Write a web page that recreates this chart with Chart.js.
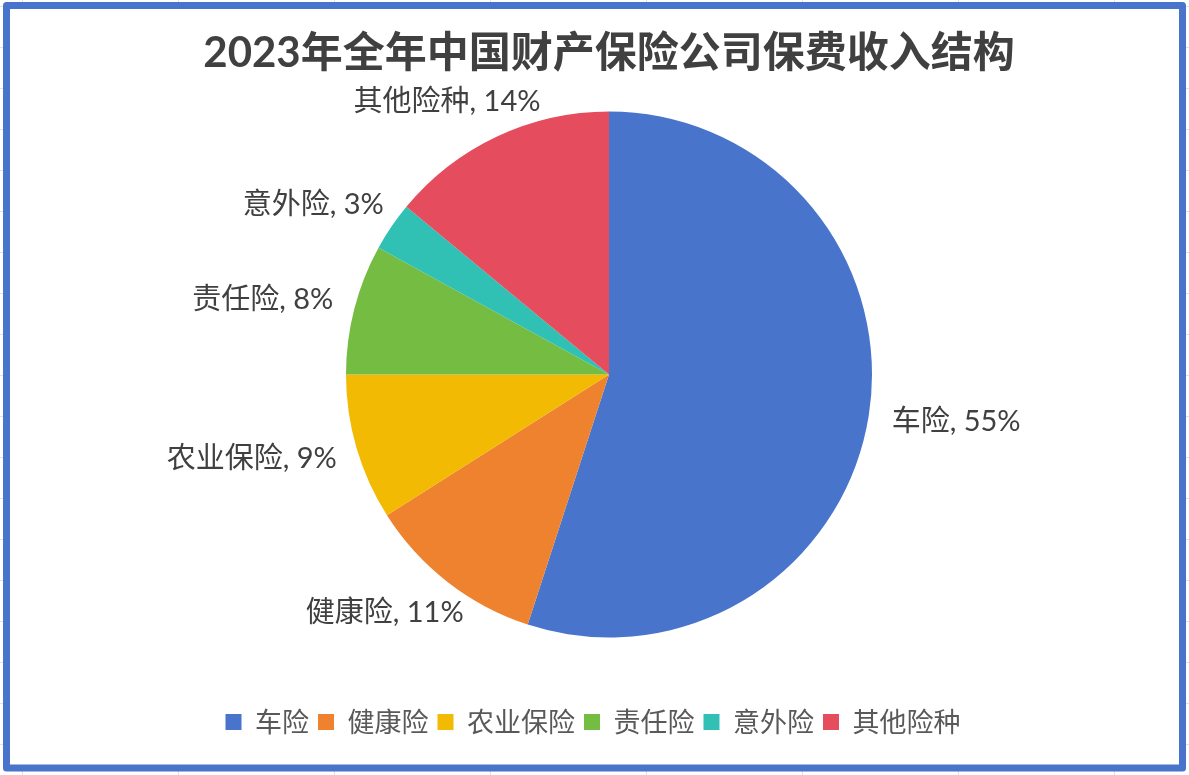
<!DOCTYPE html>
<html>
<head>
<meta charset="utf-8">
<script src="https://cdn.jsdelivr.net/npm/chart.js@4.4.1/dist/chart.umd.min.js"></script>
<style>
  html, body { margin: 0; padding: 0; background: #ffffff; }
  #wrap { position: relative; width: 1189px; height: 775px; }
  canvas { display: block; }
</style>
</head>
<body>
<div id="wrap"><canvas id="c" width="1189" height="775"></canvas></div>
<script>
// ---- data ----
const chartTitle = '2023年全年中国财产保险公司保费收入结构';
const categories = ['车险', '健康险', '农业保险', '责任险', '意外险', '其他险种'];
const shares = [55, 11, 9, 8, 3, 14];

// ---- styles ----
const sliceColors = ['#4874CB', '#EE822F', '#F2BA02', '#75BD42', '#30C0B4', '#E54C5E'];
const FONT_FAMILY = 'Lato, "Noto Sans CJK SC", sans-serif';
const CJK_FAMILY = '"Noto Sans CJK SC", Lato, sans-serif';
const frameColor = '#4874CB';
const legendShift = -16;

const framePlugin = {
  id: 'frame',
  beforeDraw(chart) {
    const ctx = chart.ctx;
    const W = chart.width, H = chart.height;
    ctx.save();
    ctx.fillStyle = '#ffffff';
    ctx.fillRect(0, 0, W, H);
    // faint sheet gridlines behind the chart frame
    ctx.strokeStyle = '#E1E1E1';
    ctx.lineWidth = 1;
    ctx.beginPath();
    for (let x = 22; x < W; x += 156) { ctx.moveTo(x + 0.5, 0); ctx.lineTo(x + 0.5, H); }
    for (let y = 6; y < H; y += 41) { ctx.moveTo(0, y + 0.5); ctx.lineTo(W, y + 0.5); }
    ctx.stroke();
    // chart area
    ctx.fillStyle = '#ffffff';
    ctx.fillRect(6.5, 5.5, 1176, 762.5);
    ctx.strokeStyle = frameColor;
    ctx.lineWidth = 7;
    ctx.lineJoin = 'round';
    ctx.strokeRect(6.5, 5.5, 1176, 762.5);
    ctx.restore();
  },
  afterLayout(chart) {
    if (chart.legend) {
      chart.legend.left += legendShift;
      chart.legend.right += legendShift;
    }
  }
};

const sliceLabelPlugin = {
  id: 'sliceLabels',
  afterDatasetsDraw(chart) {
    const ctx = chart.ctx;
    const meta = chart.getDatasetMeta(0);
    const data = chart.data.datasets[0].data;
    const total = data.reduce((a, b) => a + b, 0);
    const fontSize = 29;
    const gap = 24;
    ctx.save();
    ctx.font = fontSize + 'px ' + FONT_FAMILY;
    ctx.fillStyle = '#404040';
    ctx.textAlign = 'center';
    ctx.textBaseline = 'middle';
    meta.data.forEach((arc, i) => {
      const p = arc.getProps(['x', 'y', 'startAngle', 'endAngle', 'outerRadius'], true);
      const mid = (p.startAngle + p.endAngle) / 2;
      const dx = Math.cos(mid), dy = Math.sin(mid);
      const text = chart.data.labels[i] + ', ' + Math.round(data[i] / total * 100) + '%';
      const w = ctx.measureText(text).width;
      const ax = p.x + dx * (p.outerRadius + gap);
      const ay = p.y + dy * (p.outerRadius + gap);
      ctx.fillText(text, ax + dx * w / 2, ay + dy * fontSize / 2);
    });
    ctx.restore();
  }
};

new Chart(document.getElementById('c'), {
  type: 'pie',
  data: {
    labels: categories,
    datasets: [{
      data: shares,
      backgroundColor: sliceColors,
      borderWidth: 0,
      radius: 263
    }]
  },
  options: {
    responsive: false,
    animation: false,
    devicePixelRatio: 1,
    layout: { padding: { top: 0, left: 29, right: 0, bottom: 29.5 } },
    plugins: {
      title: {
        display: true,
        text: chartTitle,
        color: '#404040',
        font: { family: FONT_FAMILY, size: 42, weight: 'bold', lineHeight: 1.2 },
        padding: { top: 28, bottom: 0 }
      },
      legend: {
        display: true,
        position: 'bottom',
        title: { display: true, text: '', font: { size: 10, lineHeight: 1.2 }, padding: 8.5 },
        labels: {
          boxWidth: 16,
          boxHeight: 16,
          padding: 9,
          color: '#595959',
          font: { family: CJK_FAMILY, size: 27 }
        }
      },
      tooltip: { enabled: false }
    }
  },
  plugins: [framePlugin, sliceLabelPlugin]
});
</script>
</body>
</html>
